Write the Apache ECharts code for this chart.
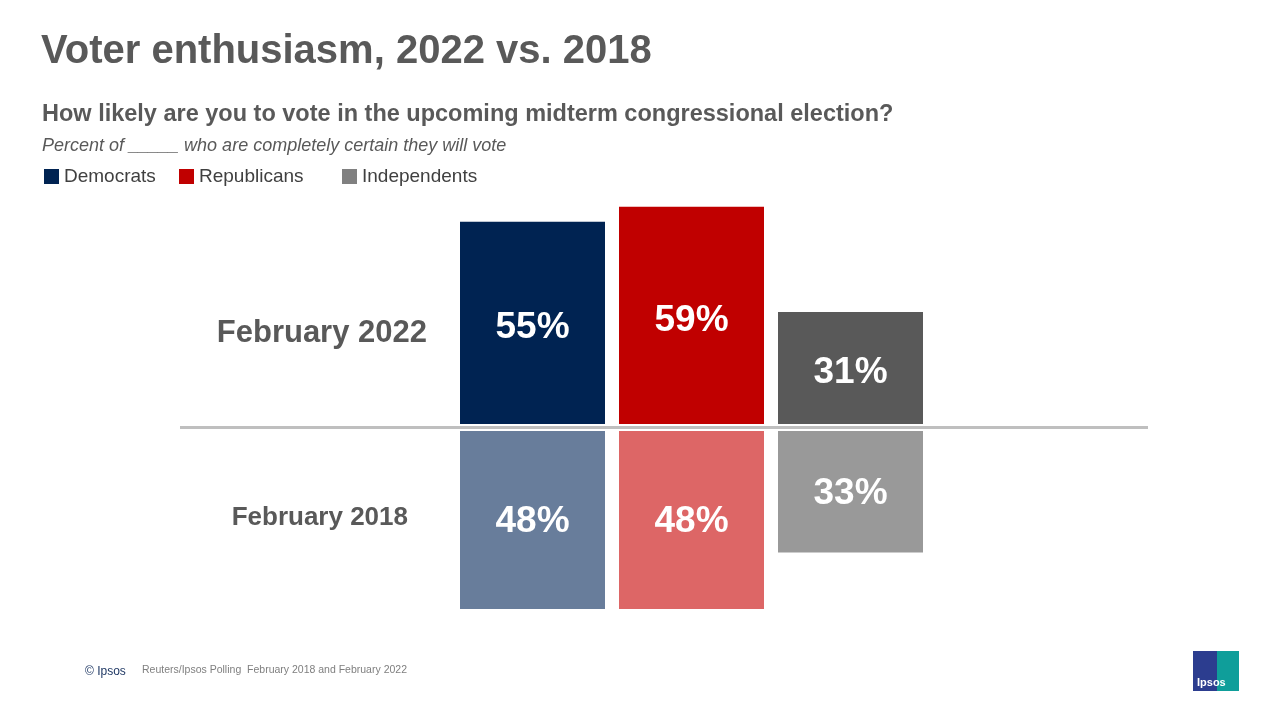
<!DOCTYPE html>
<html>
<head>
<meta charset="utf-8">
<script src="https://cdn.jsdelivr.net/npm/echarts@6/dist/echarts.min.js"></script>
<style>html,body{margin:0;padding:0;background:#fff}#main{width:1280px;height:720px}</style>
</head>
<body>
<div id="main"></div>
<script>
// 数据
const parties = ['Democrats', 'Republicans', 'Independents'];
const years = ['February 2022', 'February 2018'];
const values2022 = [55, 59, 31];
const values2018 = [48, 48, 33];
const legendColors = ['#002352', '#c00000', '#808080'];
const colors2022 = ['#002352', '#c00000', '#595959'];
const colors2018 = ['#687d9b', '#dd6666', '#999999'];

const chart = echarts.init(document.getElementById('main'));
const font = 'Arial, "Liberation Sans", sans-serif';

const barLabel = {
	show: true, position: 'inside', color: '#fff', fontSize: 37, fontWeight: 'bold', fontFamily: font,
	offset: [0, 3],
	formatter: (d) => Math.abs(d.value) + '%'
};

const series = [];
parties.forEach((p, i) => {
	series.push({
		name: p, type: 'bar', stack: 'all', barWidth: 145,
		itemStyle: { color: legendColors[i] },
		label: barLabel,
		data: parties.map((q, j) => j === i ? { value: values2022[i], itemStyle: { color: colors2022[i] } } : null)
	});
	series.push({
		name: p, type: 'bar', stack: 'all', barWidth: 145,
		itemStyle: { color: legendColors[i] },
		label: barLabel,
		data: parties.map((q, j) => j === i ? { value: -values2018[i], itemStyle: { color: colors2018[i] } } : null)
	});
});

const legendLefts = [39, 174, 337];

const option = {
	animation: false,
	textStyle: { fontFamily: font },
	title: [
		{ text: 'Voter enthusiasm, 2022 vs. 2018', left: 36, top: 27, textStyle: { fontSize: 40, fontWeight: 'bold', color: '#595959', fontFamily: font } },
		{ text: 'How likely are you to vote in the upcoming midterm congressional election?', left: 37, top: 98, textStyle: { fontSize: 23.5, fontWeight: 'bold', color: '#595959', fontFamily: font } },
		{ text: 'Percent of _____ who are completely certain they will vote', left: 37, top: 132, textStyle: { fontSize: 18, fontStyle: 'italic', fontWeight: 'normal', color: '#595959', fontFamily: font } }
	],
	legend: parties.map((p, i) => ({
		data: [p], left: legendLefts[i], top: 162,
		icon: 'rect', itemWidth: 15, itemHeight: 15, itemGap: 6,
		textStyle: { fontSize: 19, color: '#404040', fontFamily: font }
	})),
	grid: { left: 453, width: 477, top: 203, bottom: 66 },
	xAxis: { type: 'category', data: parties, show: false },
	yAxis: { type: 'value', min: -60, max: 60, show: false },
	series: series,
	graphic: [
		{ type: 'rect', shape: { x: 450, y: 424, width: 480, height: 7 }, style: { fill: '#fff' }, z: 50 },
		{ type: 'rect', shape: { x: 180, y: 426, width: 968, height: 3 }, style: { fill: '#bfbfbf' }, z: 51 },
		{ type: 'text', x: 427, y: 333, style: { text: years[0], align: 'right', verticalAlign: 'middle', fill: '#595959', font: 'bold 31px ' + font } },
		{ type: 'text', x: 408, y: 518, style: { text: years[1], align: 'right', verticalAlign: 'middle', fill: '#595959', font: 'bold 26px ' + font } },
		{ type: 'text', x: 85, y: 666, style: { text: '© Ipsos', fill: '#1f3864', font: '12px ' + font } },
		{ type: 'text', x: 142, y: 665, style: { text: 'Reuters/Ipsos Polling  February 2018 and February 2022', fill: '#7f7f7f', font: '10.5px ' + font } },
		{ type: 'rect', shape: { x: 1193, y: 651, width: 46, height: 40 }, style: { fill: '#0f9e9a' } },
		{ type: 'rect', shape: { x: 1193, y: 651, width: 24, height: 40 }, style: { fill: '#2c3d8f' } },
		{ type: 'text', x: 1197, y: 677, style: { text: 'Ipsos', fill: '#fff', font: 'bold 11px ' + font } }
	]
};
chart.setOption(option);
</script>
</body>
</html>
